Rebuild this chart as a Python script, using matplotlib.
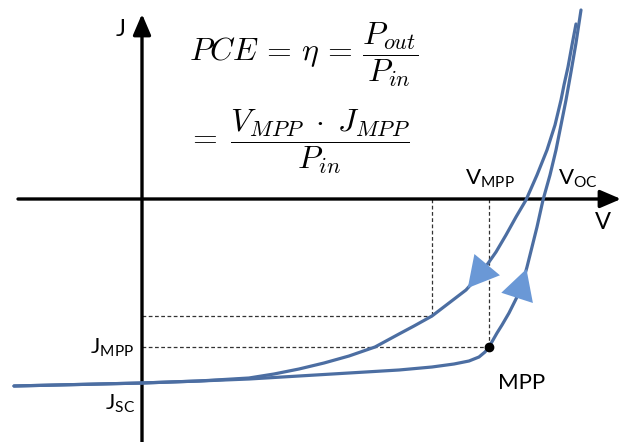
import numpy as np
import matplotlib
matplotlib.use('Agg')
import matplotlib.pyplot as plt

# ------------------------------------------------------------
# data: schematic J-V hysteresis (arbitrary units, origin at axes cross)
# ------------------------------------------------------------
# forward scan (Jsc -> Voc), passes through the MPP
fwd_v = [-128, 0, 57, 107, 157, 207, 257, 290, 312, 327, 337, 343, 347, 351, 355,
         360, 367, 374, 380, 385, 390, 395, 401, 408, 414, 419, 424, 429, 434, 439]
fwd_j = [-187, -184, -182, -180, -177, -174, -171, -168, -165, -162, -158, -153, -148, -141, -134,
         -126, -114, -100, -86, -68, -48, -28, -1, 24, 49, 74, 99, 127, 156, 189]

# reverse scan (Voc -> Jsc)
rev_v = [434, 430, 426, 422, 419, 413, 405, 395, 384, 374, 364, 354, 340, 324, 307,
         290, 272, 257, 233, 207, 182, 157, 132, 107, 57, 0, -128]
rev_j = [175, 154, 132, 114, 99, 74, 49, 24, -1, -18, -36, -53, -73, -91, -104,
         -117, -127, -135, -148, -157, -164, -170, -175, -179, -182, -184, -187]

v_mpp, j_mpp = 347, -148          # maximum power point (forward scan)
v_mpp_rev, j_mpp_rev = 290, -117  # max power point of the reverse scan

LINE = '#4C6EA2'
HEAD = '#6A98D6'

plt.rcParams['mathtext.rm'] = 'Lato'
plt.rcParams['mathtext.it'] = 'Lato:italic'
plt.rcParams['font.family'] = ['Lato', 'DejaVu Sans']

fig = plt.figure(figsize=(6.24, 4.42), dpi=100)
ax = fig.add_axes([0, 0, 1, 1])
ax.set_xlim(-142, 482)
ax.set_ylim(-243, 199)
ax.axis('off')

# axes with arrow heads
axis_arrow = dict(arrowstyle='-|>,head_length=0.7,head_width=0.3',
                  lw=2.4, color='black', shrinkA=0, shrinkB=0, mutation_scale=18)
ax.annotate('', xy=(479, 0), xytext=(-124, 0), arrowprops=axis_arrow)
ax.annotate('', xy=(0, 185), xytext=(0, -243), arrowprops=axis_arrow)

# dashed guide lines
dash = dict(color='#333333', lw=0.9, ls=(0, (3, 2)), zorder=2)
ax.plot([v_mpp, v_mpp], [0, j_mpp], **dash)
ax.plot([0, v_mpp], [j_mpp, j_mpp], **dash)
ax.plot([v_mpp_rev, v_mpp_rev], [0, j_mpp_rev], **dash)
ax.plot([0, v_mpp_rev], [j_mpp_rev, j_mpp_rev], **dash)

# curves
ax.plot(fwd_v, fwd_j, color=LINE, lw=2.3, solid_joinstyle='round',
        solid_capstyle='round', zorder=3)
ax.plot(rev_v, rev_j, color=LINE, lw=2.3, solid_joinstyle='round',
        solid_capstyle='round', zorder=3)

# direction arrows on the curves
fv, fj = np.array(fwd_v), np.array(fwd_j)
rv, rj = np.array(rev_v[::-1]), np.array(rev_j[::-1])
up_tail, up_tip = -93, -70
dn_tail, dn_tip = -66, -89
head = dict(arrowstyle='-|>,head_length=0.95,head_width=0.52',
            lw=0, color=HEAD, shrinkA=0, shrinkB=0, mutation_scale=23)
ax.annotate('', xy=(np.interp(up_tip, fj[2:], fv[2:]), up_tip),
            xytext=(np.interp(up_tail, fj[2:], fv[2:]), up_tail),
            arrowprops=head, zorder=4)
ax.annotate('', xy=(np.interp(dn_tip, rj[2:], rv[2:]), dn_tip),
            xytext=(np.interp(dn_tail, rj[2:], rv[2:]), dn_tail),
            arrowprops=head, zorder=4)

# MPP marker
ax.plot([v_mpp], [j_mpp], 'o', color='black', ms=6, zorder=5)

# labels
lab = dict(fontsize=16, math_fontfamily='custom')
ax.text(-21, 169, 'J', ha='center', va='center', fontsize=17)
ax.text(461, -24, 'V', ha='center', va='center', fontsize=17)
ax.text(323, 9, r'$\mathrm{V_{MPP}}$', ha='left', va='bottom', **lab)
ax.text(416, 9, r'$\mathrm{V_{OC}}$', ha='left', va='bottom', **lab)
ax.text(-8, -149, r'$\mathrm{J_{MPP}}$', ha='right', va='center', **lab)
ax.text(-7, -205, r'$\mathrm{J_{SC}}$', ha='right', va='center', **lab)
ax.text(380, -184, 'MPP', ha='center', va='center', fontsize=16)

# efficiency equations
eq = dict(fontsize=23, math_fontfamily='cm', ha='left', va='center')
ax.text(47, 144, r'$PCE\,=\,\eta\,=\,\dfrac{P_{out}}{P_{in}}$', **eq)
ax.text(45, 57, r'$=\;\dfrac{V_{MPP}\;\cdot\;J_{MPP}}{P_{in}}$', **eq)

fig.savefig('out.png', dpi=100)
